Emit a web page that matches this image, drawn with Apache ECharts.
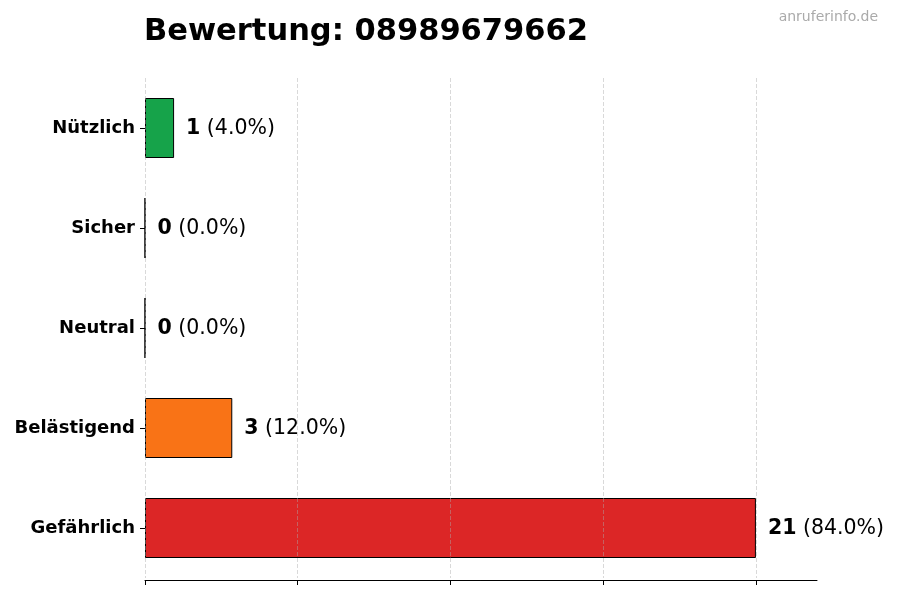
<!DOCTYPE html>
<html>
<head>
<meta charset="utf-8">
<script src="https://cdn.jsdelivr.net/npm/echarts@6/dist/echarts.min.js"></script>
<style>
  html,body{margin:0;padding:0;background:#fff;}
  #chart{width:900px;height:600px;}
</style>
</head>
<body>
<div id="chart"></div>
<script>
// bottom to top, as the axis draws them
var categories = ["Gefährlich", "Belästigend", "Neutral", "Sicher", "Nützlich"];
var counts = [21, 3, 0, 0, 1];
var barColors = ["#dc2626", "#f97316", "#9ca3af", "#3b82f6", "#16a34a"];
var tickValues = [0, 5.25, 10.5, 15.75, 21];
var titleText = "Bewertung: 08989679662";
var sourceText = "anruferinfo.de";

var total = 0;
for (var i = 0; i < counts.length; i++) { total += counts[i]; }

var chart = echarts.init(document.getElementById("chart"));
var FONT = "DejaVu Sans";

var option = {
    animation: false,
    backgroundColor: "#fff",
    textStyle: { fontFamily: FONT },
    title: {
        text: titleText,
        left: 139,
        top: 12,
        textStyle: { fontFamily: FONT, fontSize: 30.5, fontWeight: "bold", color: "#000" }
    },
    graphic: [{
        type: "text",
        right: 22,
        top: 10,
        style: { text: sourceText, fontFamily: FONT, fontSize: 14, fill: "#aaaaaa" }
    }],
    grid: { left: 145, right: 83, top: 78, height: 500 },
    xAxis: {
        type: "value",
        min: 0,
        max: 23.1,
        interval: 5.25,
        offset: 2,
        z: 5,
        axisLine: { show: true, lineStyle: { color: "#000", width: 1 } },
        axisTick: { show: true, length: 5, customValues: tickValues, lineStyle: { color: "#000" } },
        axisLabel: { show: false },
        splitLine: { show: true, lineStyle: { color: "rgba(170,170,170,0.45)", type: [4, 2], width: 1 } }
    },
    yAxis: {
        type: "category",
        data: categories,
        axisLine: { show: false },
        axisTick: { show: true, alignWithLabel: true, length: 5, lineStyle: { color: "#000" } },
        axisLabel: { margin: 10, padding: [4, 0, 0, 0], fontFamily: FONT, fontSize: 18, fontWeight: "bold", color: "#000" }
    },
    series: [{
        type: "bar",
        barWidth: "60%",
        data: counts.map(function (v, idx) {
            return { value: v, itemStyle: { color: barColors[idx] } };
        }),
        itemStyle: { borderColor: "#000", borderWidth: 1 },
        label: {
            show: true,
            position: "right",
            distance: 12,
            padding: [2, 0, 0, 0],
            formatter: function (p) {
                var pct = (p.value / total * 100).toFixed(1);
                return "{b|" + p.value + "}{n| (" + pct + "%)}";
            },
            rich: {
                b: { fontFamily: FONT, fontSize: 20.5, fontWeight: "bold", color: "#000" },
                n: { fontFamily: FONT, fontSize: 20.5, color: "#000" }
            }
        }
    }]
};
chart.setOption(option);
</script>
</body>
</html>
